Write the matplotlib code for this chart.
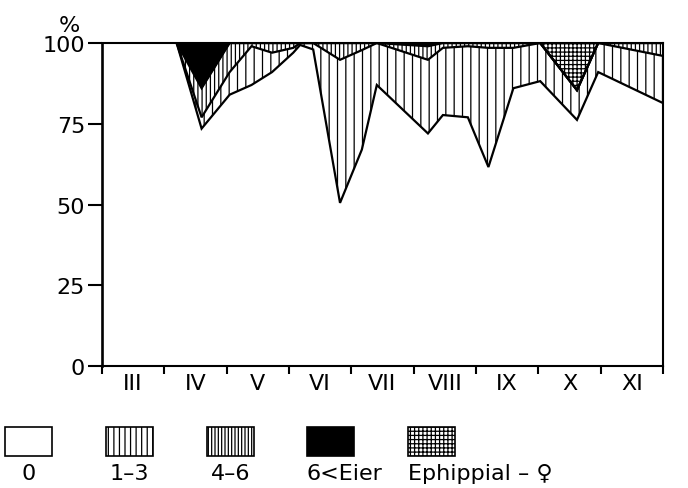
import matplotlib.pyplot as plt
import numpy as np
from matplotlib.patches import Rectangle

plt.rcParams['hatch.linewidth'] = 0.9

months = ['III', 'IV', 'V', 'VI', 'VII', 'VIII', 'IX', 'X', 'XI']

# Probenahmen (Position in Monaten ab Anfang III)
x = [1.2, 1.6, 2.05, 2.4, 2.73, 3.07, 3.18, 3.39, 3.82, 4.17,
     4.41, 5.23, 5.47, 5.87, 6.2, 6.6, 7.03, 7.62, 7.96, 9.0]

# Anteile in % je Eizahl-Klasse
eier_0 = [100, 73.5, 84, 87, 91, 97, 99.4, 98, 50.5, 67,
          87, 72, 77.7, 77, 61.6, 86, 88.2, 76.2, 91, 81.4]
eier_1_3 = [0, 3.5, 7, 12, 6, 1.5, 0.6, 2, 44.3, 30.8,
            13, 22.8, 20.8, 22, 36.9, 12.5, 11.8, 9.2, 9, 14.6]
eier_4_6 = [0, 9, 9, 1, 3, 1.5, 0, 0, 5.2, 2.2,
            0, 4.2, 1.5, 1, 1.5, 1.5, 0, 0, 0, 4]
eier_6plus = [0, 14, 0, 0, 0, 0, 0, 0, 0, 0,
              0, 1, 0, 0, 0, 0, 0, 0, 0, 0]
ephippial = [0, 0, 0, 0, 0, 0, 0, 0, 0, 0,
             0, 0, 0, 0, 0, 0, 0, 14.6, 0, 0]

labels = ['0', '1\u20133', '4\u20136', '6<Eier', 'Ephippial \u2013 \u2640']

fig = plt.figure(figsize=(6.88, 4.89), dpi=100)
ax = fig.add_axes([0.148, 0.2495, 0.8157, 0.6605])

layers = np.array([eier_0, eier_1_3, eier_4_6, eier_6plus, ephippial])
tops = np.cumsum(layers, axis=0)
bottoms = np.vstack([np.zeros(len(x)), tops[:-1]])

faces = ['white', 'white', 'white', 'black', 'white']
hatches = [None, '||', '||||', None, '++++']
for i in range(5):
    ax.fill_between(x, bottoms[i], tops[i], facecolor=faces[i], edgecolor='black',
                    linewidth=0, hatch=hatches[i])
for i in range(4):
    ax.plot(x, tops[i], color='black', lw=1.6, solid_joinstyle='miter')

ax.set_xlim(0, 9)
ax.set_ylim(0, 100)
for s in ax.spines.values():
    s.set_linewidth(1.5)
ax.spines['left'].set_linewidth(1.9)

ax.set_yticks([0, 25, 50, 75, 100])
ax.tick_params(axis='y', direction='out', length=10, width=1.5, labelsize=16, pad=2)
ax.set_xticks(np.arange(10))
ax.set_xticklabels([])
ax.set_xticks(np.arange(9) + 0.5, minor=True)
ax.set_xticklabels(months, minor=True)
ax.tick_params(axis='x', which='major', direction='out', length=6, width=1.5)
ax.tick_params(axis='x', which='minor', length=0, labelsize=16, pad=5)
ax.text(-0.057, 1.025, '%', transform=ax.transAxes, ha='center', va='bottom', fontsize=16)

# Legende
box_x = [5, 106, 207, 307, 408]
for i in range(5):
    fig.add_artist(Rectangle((box_x[i] / 688, 32 / 489), 47 / 688, 29 / 489,
                             transform=fig.transFigure, facecolor=faces[i],
                             edgecolor='black', linewidth=1.2,
                             hatch=[None, '|||', '|||||', None, '++++'][i]))
    if i < 3:
        fig.text((box_x[i] + 23.5) / 688, 25 / 489, labels[i], ha='center', va='top', fontsize=16)
    else:
        fig.text(box_x[i] / 688, 25 / 489, labels[i], ha='left', va='top', fontsize=16)

fig.savefig('out.png', dpi=100)
